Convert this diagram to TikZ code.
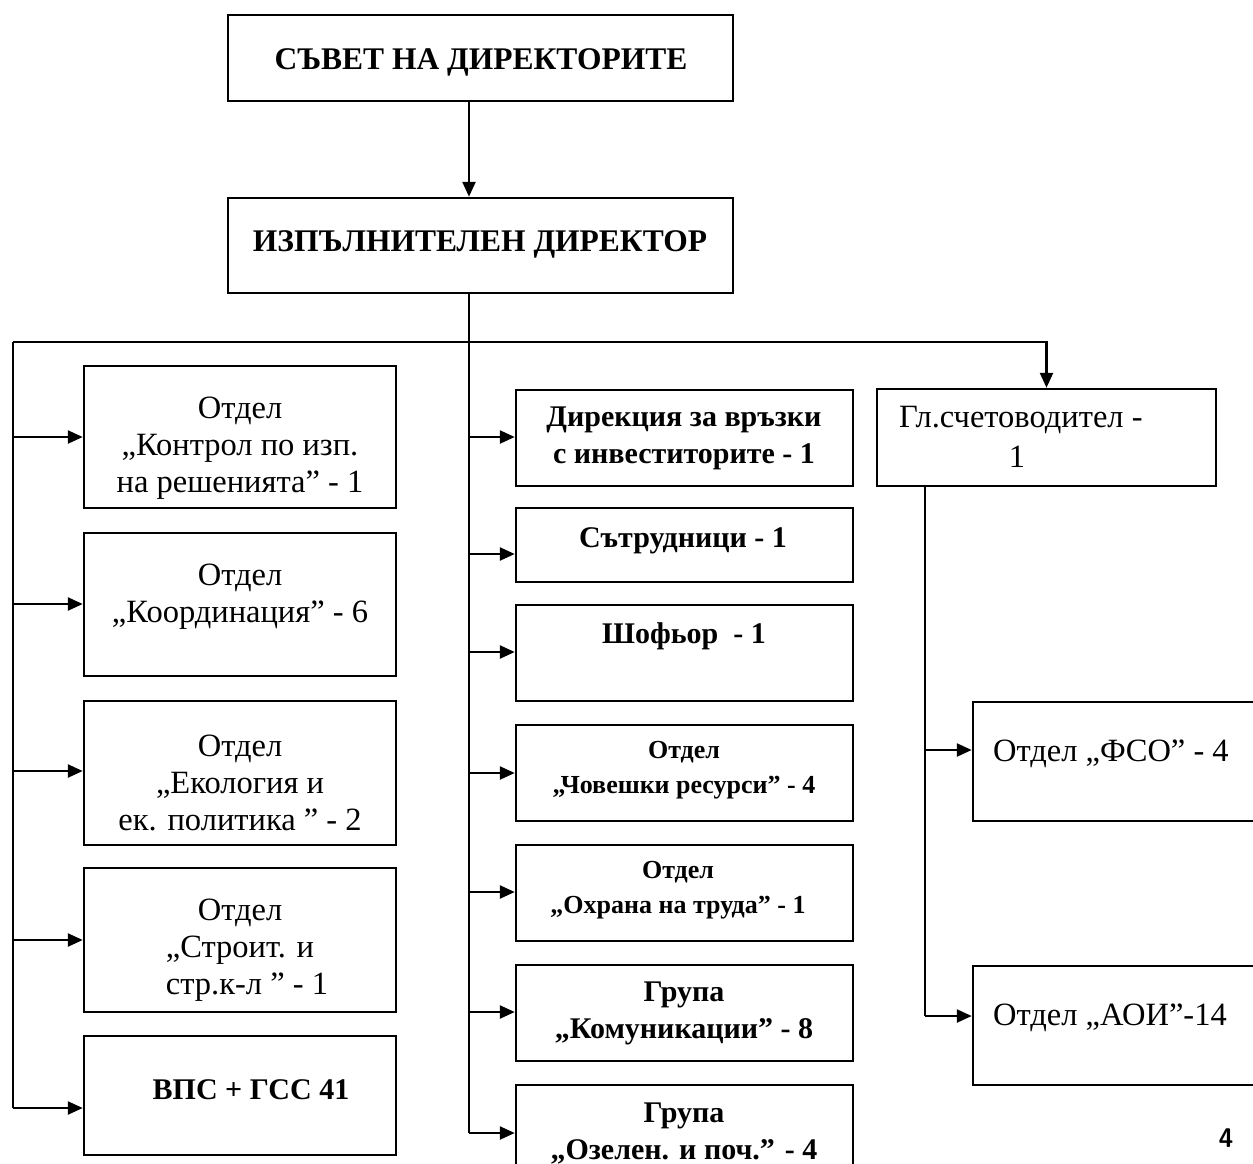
\documentclass[tikz,border=0pt]{standalone}
\usepackage{fontspec}
\setmainfont{Liberation Serif}
\usetikzlibrary{arrows.meta}
\tikzset{
  box/.style={draw, line width=2.5pt, rectangle, inner sep=0pt},
  arr/.style={line width=2.5pt, -{Triangle[length=15pt,width=13pt]}},
  ln/.style={line width=2.5pt},
  txt/.style={align=center, inner sep=0pt, font=\fontsize{32.5}{37}\selectfont},
  btxt/.style={align=center, inner sep=0pt, font=\fontsize{30}{37}\selectfont\bfseries},
  stxt/.style={align=center, inner sep=0pt, font=\fontsize{26}{35}\selectfont\bfseries},
}
\newcommand{\bx}[5]{\node[box, minimum width={#4-#2}, minimum height={#5-#3}] (#1) at ({(#2+#4)/2},{(#3+#5)/2}) {};}
\begin{document}
\begin{tikzpicture}[x=1pt,y=-1pt]
\useasboundingbox (0,0) rectangle (1253,1163);
\clip (0,0) rectangle (1253,1163);
% boxes
\bx{sovet}{228}{15}{733}{101}
\bx{izp}{228}{198}{733}{293}
\bx{l1}{84}{366}{396}{508}
\bx{l2}{84}{533}{396}{676}
\bx{l3}{84}{701}{396}{845}
\bx{l4}{84}{868}{396}{1012}
\bx{l5}{84}{1036}{396}{1155}
\bx{m1}{516}{390}{853}{486}
\bx{m2}{516}{508}{853}{582}
\bx{m3}{516}{605}{853}{701}
\bx{m4}{516}{725}{853}{821}
\bx{m5}{516}{845}{853}{941}
\bx{m6}{516}{965}{853}{1061}
\bx{m7}{516}{1085}{853}{1190}
\bx{gl}{877}{389}{1216}{486}
\bx{fso}{973}{702}{1270}{821}
\bx{aoi}{973}{966}{1270}{1085}
% texts
\node[btxt, font=\fontsize{31.5}{37}\selectfont\bfseries] (tsovet) at (481,62) {СЪВЕТ НА ДИРЕКТОРИТЕ};
\node[btxt, font=\fontsize{31.5}{37}\selectfont\bfseries] (tizp) at (480,244) {ИЗПЪЛНИТЕЛЕН ДИРЕКТОР};
\node[txt] (tl1) at (240,448) {Отдел\\„Контрол по изп.\\на решенията” - 1};
\node[txt] (tl2) at (240,597) {Отдел\\„Координация” - 6};
\node[txt] (tl3) at (240,783) {Отдел\\„Екология и\\ек. политика ” - 2};
\node[txt] (tl4) at (240,950) {Отдел\\„Строит. и\\\hspace*{14pt}стр.к-л ” - 1};
\node[btxt] (tl5) at (251,1090) {ВПС + ГСС 41};
\node[btxt] (tm1) at (684,438) {Дирекция за връзки\\с инвеститорите - 1};
\node[btxt] (tm2) at (683,541) {Сътрудници - 1};
\node[btxt] (tm3) at (684,636) {Шофьор\ \ - 1};
\node[stxt] (tm4) at (684,770) {Отдел\\„Човешки ресурси” - 4};
\node[stxt] (tm5) at (678,890) {Отдел\\„Охрана на труда” - 1};
\node[btxt] (tm6) at (684,1013) {Група\\„Комуникации” - 8};
\node[btxt] (tm7) at (684,1133) {Група\\„Озелен. и поч.” - 4};
\node[txt, anchor=west] (tgl) at (899,420) {Гл.счетоводител -};
\node[txt] (tgl2) at (1017,457) {1};
\node[txt, anchor=west] (tfso) at (993,754) {Отдел „ФСО” - 4};
\node[txt, anchor=west] (taoi) at (993,1018) {Отдел „АОИ”-14};
\node[inner sep=0pt, font=\fontsize{27}{30}\selectfont\sffamily\bfseries] (page) at (1226,1138) {4};
% trunk coordinates
\coordinate (M) at (469,293);
\coordinate (L) at (13,342);
\coordinate (R) at (925,486);
\coordinate (Mb) at (469,1133);
\coordinate (Lb) at (13,1108);
\coordinate (Rb) at (925,1016);
% connectors
\draw[arr] (sovet.south -| M) -- (izp.north -| M);
\draw[ln] (izp.south -| M) -- (Mb);
\draw[ln] (L) -- (Lb);
\draw[arr] (L) -- (L -| gl.north) -- (gl.north);
\draw[ln] (gl.south -| R) -- (Rb);
% left arrows
\draw[arr] (L |- 0,437) -- (l1.west |- 0,437);
\draw[arr] (L |- 0,604) -- (l2.west |- 0,604);
\draw[arr] (L |- 0,771) -- (l3.west |- 0,771);
\draw[arr] (L |- 0,940) -- (l4.west |- 0,940);
\draw[arr] (Lb) -- (l5.west |- Lb);
% middle arrows
\draw[arr] (M |- 0,437) -- (m1.west |- 0,437);
\draw[arr] (M |- 0,554) -- (m2.west |- 0,554);
\draw[arr] (M |- 0,652) -- (m3.west |- 0,652);
\draw[arr] (M |- 0,773) -- (m4.west |- 0,773);
\draw[arr] (M |- 0,892) -- (m5.west |- 0,892);
\draw[arr] (M |- 0,1012) -- (m6.west |- 0,1012);
\draw[arr] (Mb) -- (m7.west |- Mb);
% right arrows
\draw[arr] (R |- 0,750) -- (fso.west |- 0,750);
\draw[arr] (Rb) -- (aoi.west |- Rb);
\end{tikzpicture}
\end{document}
